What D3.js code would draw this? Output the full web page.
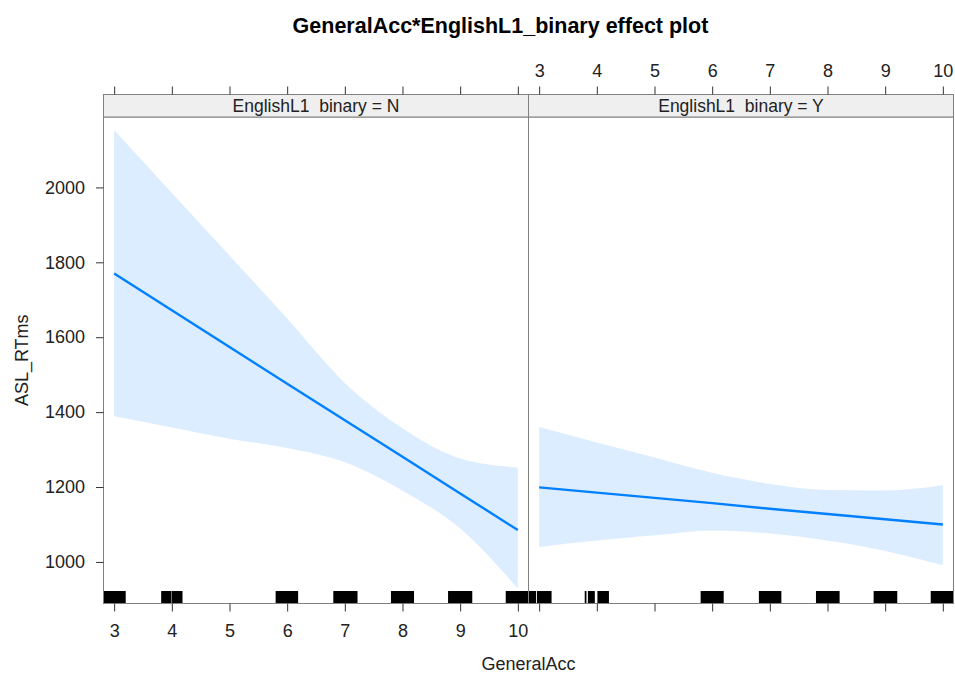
<!DOCTYPE html>
<html>
<head>
<meta charset="utf-8">
<script src="https://cdn.jsdelivr.net/npm/d3@7"></script>
<style>
  body { margin: 0; background: #fff; }
  svg { font-family: "Liberation Sans", Arial, sans-serif; }
</style>
</head>
<body>
<script>
// GeneralAcc grid the effect was evaluated on
var gaGrid = [3, 4, 5, 6, 7, 8, 9, 10];

// EnglishL1_binary = N
var fitN   = [1770, 1672, 1574, 1476, 1378, 1281, 1183, 1085];
var lowerN = [1389, 1359, 1329, 1304, 1266, 1190, 1089, 929];
var upperN = [2153, 1985, 1818, 1650, 1478, 1357, 1276, 1252];

// EnglishL1_binary = Y
var fitY   = [1199, 1185, 1171, 1157, 1142, 1128, 1114, 1100];
var lowerY = [1040, 1057, 1071, 1084, 1076, 1057, 1029, 991];
var upperY = [1360, 1319, 1279, 1238, 1208, 1192, 1191, 1205];

// rug blocks (jittered GeneralAcc values merge into blocks)
var rugN = [[2.815, 3.20], [3.815, 3.995], [4.003, 4.185], [5.80, 6.19], [6.80, 7.22],
            [7.80, 8.20], [8.79, 9.21], [9.79, 10.185]];
var rugY = [[2.815, 2.945], [2.96, 3.215], [3.79, 3.82], [3.845, 3.965], [4.01, 4.21],
            [5.80, 6.20], [6.81, 7.20], [7.80, 8.21], [8.80, 9.21], [9.79, 10.185]];

var xTicks = [3, 4, 5, 6, 7, 8, 9, 10];
var yTicks = [1000, 1200, 1400, 1600, 1800, 2000];

var width = 955, height = 673;
var plotLeft = 103.5, panelW = 425;
var stripTop = 94.5, plotTop = 117, plotBottom = 603.5;
var lineCol = "#0080ff";

var svg = d3.select("body").append("svg")
    .attr("width", width)
    .attr("height", height);

var y = d3.scaleLinear().domain([889, 2188]).range([plotBottom, plotTop]);

var panels = [
  {level: "N", fit: fitN, lower: lowerN, upper: upperN, rug: rugN, x0: plotLeft},
  {level: "Y", fit: fitY, lower: lowerY, upper: upperY, rug: rugY, x0: plotLeft + panelW}
];

// title
svg.append("text")
    .attr("x", 500.5).attr("y", 33)
    .attr("text-anchor", "middle")
    .style("font-size", "21.5px")
    .style("font-weight", "bold")
    .text("GeneralAcc*EnglishL1_binary effect plot");

panels.forEach(function(p, i) {
  var x = d3.scaleLinear().domain([2.815, 10.185]).range([p.x0, p.x0 + panelW]);
  var g = svg.append("g");

  var rows = gaGrid.map(function(v, j) {
    return {ga: v, fit: p.fit[j], lo: p.lower[j], hi: p.upper[j]};
  });

  // confidence band
  g.append("path")
      .datum(rows)
      .attr("fill", lineCol)
      .attr("fill-opacity", 0.14)
      .attr("d", d3.area()
          .curve(d3.curveMonotoneX)
          .x(function(d) { return x(d.ga); })
          .y0(function(d) { return y(d.lo); })
          .y1(function(d) { return y(d.hi); }));

  // fitted line
  g.append("path")
      .datum(rows)
      .attr("fill", "none")
      .attr("stroke", lineCol)
      .attr("stroke-width", 2.4)
      .attr("d", d3.line()
          .x(function(d) { return x(d.ga); })
          .y(function(d) { return y(d.fit); }));

  // rug
  g.selectAll("rect.rug")
      .data(p.rug)
      .enter().append("rect")
      .attr("class", "rug")
      .attr("x", function(d) { return x(d[0]); })
      .attr("width", function(d) { return x(d[1]) - x(d[0]); })
      .attr("y", plotBottom - 12.5)
      .attr("height", 12.5)
      .attr("fill", "#000");

  // panel frame
  g.append("rect")
      .attr("x", p.x0).attr("y", plotTop)
      .attr("width", panelW).attr("height", plotBottom - plotTop)
      .attr("fill", "none")
      .attr("stroke", "#808080");

  // strip
  g.append("rect")
      .attr("x", p.x0).attr("y", stripTop)
      .attr("width", panelW).attr("height", plotTop - stripTop)
      .attr("fill", "#efefef")
      .attr("stroke", "#808080");
  g.append("text")
      .attr("x", p.x0 + panelW / 2).attr("y", plotTop - 5)
      .attr("text-anchor", "middle")
      .style("font-size", "17.5px")
      .style("white-space", "pre")
      .attr("fill", "#222")
      .text("EnglishL1  binary = " + p.level);

  // bottom axis (labels only under first panel)
  var bottom = g.append("g")
      .attr("transform", "translate(0," + plotBottom + ")")
      .call(d3.axisBottom(x).tickValues(xTicks).tickSize(8).tickSizeOuter(0)
          .tickFormat(i === 0 ? d3.format("d") : ""));
  // top axis (labels only above second panel)
  var top = g.append("g")
      .attr("transform", "translate(0," + stripTop + ")")
      .call(d3.axisTop(x).tickValues(xTicks).tickSize(8).tickSizeOuter(0)
          .tickFormat(i === 1 ? d3.format("d") : ""));
  [bottom, top].forEach(function(a) {
    a.select(".domain").remove();
    a.selectAll("line").attr("stroke", "#333");
    a.selectAll("text").style("font-size", "18px").attr("fill", "#222");
    a.attr("font-family", null);
  });
  bottom.selectAll("text").attr("y", 0).attr("dy", null).attr("transform", "translate(0,33.5)");
  top.selectAll("text").attr("y", 0).attr("dy", null).attr("transform", "translate(0,-18)");
});

// left y axis
var yAxis = svg.append("g")
    .attr("transform", "translate(" + plotLeft + ",0)")
    .call(d3.axisLeft(y).tickValues(yTicks).tickFormat(d3.format("d"))
        .tickSize(7.5).tickSizeOuter(0).tickPadding(11));
yAxis.select(".domain").remove();
yAxis.attr("font-family", null);
yAxis.selectAll("line").attr("stroke", "#333");
yAxis.selectAll("text").style("font-size", "18px").attr("fill", "#222");

// axis titles
svg.append("text")
    .attr("x", 528.5).attr("y", 670)
    .attr("text-anchor", "middle")
    .style("font-size", "18px")
    .attr("fill", "#222")
    .text("GeneralAcc");
svg.append("text")
    .attr("transform", "translate(28," + ((plotTop + plotBottom) / 2) + ") rotate(-90)")
    .attr("text-anchor", "middle")
    .style("font-size", "18px")
    .attr("fill", "#222")
    .text("ASL_RTms");
</script>
</body>
</html>
